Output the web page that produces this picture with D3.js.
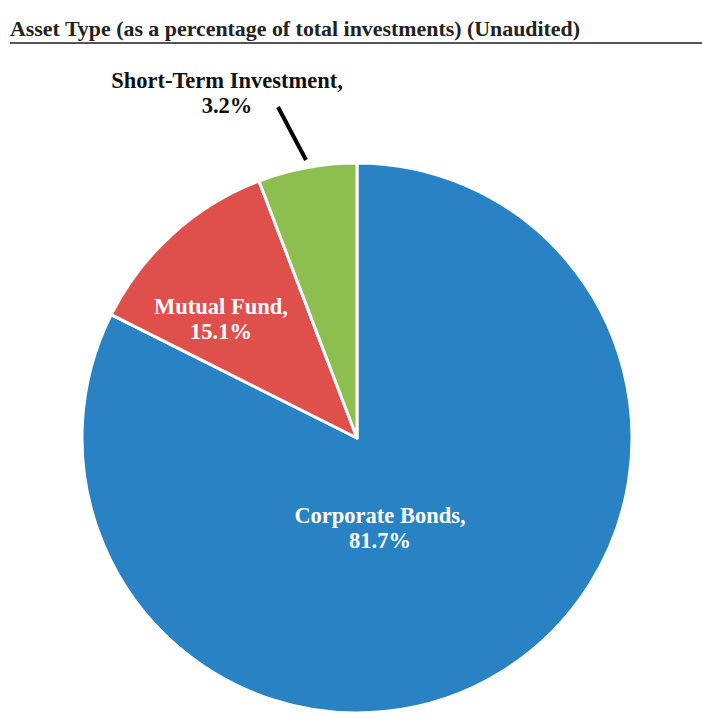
<!DOCTYPE html>
<html>
<head>
<meta charset="utf-8">
<script src="https://cdn.jsdelivr.net/npm/d3@7"></script>
<style>
  body { margin: 0; background: #fff; }
  text { font-family: "Liberation Serif", "Times New Roman", serif; font-weight: bold; }
</style>
</head>
<body>
<svg width="702" height="719"></svg>
<script>
// slice names and the printed percentages
var categories = ['Corporate Bonds', 'Mutual Fund', 'Short-Term Investment'];
var pctLabels = ['81.7%', '15.1%', '3.2%'];
// slice sizes as drawn in the picture (share of the circle)
var sliceShares = [82.4, 11.8, 5.8];
var colors = ['#2882c4', '#df504c', '#8cbf4f'];

var svg = d3.select('svg');

svg.append('text')
    .attr('x', 10)
    .attr('y', 36)
    .attr('font-size', 22)
    .attr('fill', '#222')
    .attr('textLength', 570)
    .attr('lengthAdjust', 'spacingAndGlyphs')
    .text('Asset Type (as a percentage of total investments) (Unaudited)');

svg.append('line')
    .attr('x1', 10).attr('x2', 702)
    .attr('y1', 43).attr('y2', 43)
    .attr('stroke', '#555')
    .attr('stroke-width', 2);

var cx = 357, cy = 438, radius = 275;

var data = categories.map((c, i) => ({ name: c, pct: pctLabels[i], share: sliceShares[i], color: colors[i] }));

var pie = d3.pie().sort(null).value(d => d.share);
var arc = d3.arc().innerRadius(0).outerRadius(radius);

var g = svg.append('g').attr('transform', 'translate(' + [cx, cy] + ')');

var arcs = pie(data);

g.selectAll('.slice')
    .data(arcs)
    .enter()
    .append('path')
    .attr('class', 'slice')
    .attr('d', arc)
    .attr('fill', d => d.data.color)
    .attr('stroke', '#fff')
    .attr('stroke-width', 3)
    .attr('stroke-linejoin', 'round');

// label positions relative to center
var labelPos = [
    { x: 23, y: 85, fill: '#fff' },
    { x: -136, y: -124, fill: '#fff' },
    { x: -130, y: -350, fill: '#111' }
];

arcs.forEach(function (d, i) {
    var p = labelPos[i];
    var t = g.append('text')
        .attr('text-anchor', 'middle')
        .attr('font-size', 22.5)
        .attr('fill', p.fill);
    t.append('tspan').attr('x', p.x).attr('y', p.y).text(d.data.name + ',');
    t.append('tspan').attr('x', p.x).attr('y', p.y + 25).text(d.data.pct);
});

// leader line for the small slice
g.append('line')
    .attr('x1', -79).attr('y1', -331)
    .attr('x2', -51).attr('y2', -278)
    .attr('stroke', '#000')
    .attr('stroke-width', 4);
</script>
</body>
</html>
